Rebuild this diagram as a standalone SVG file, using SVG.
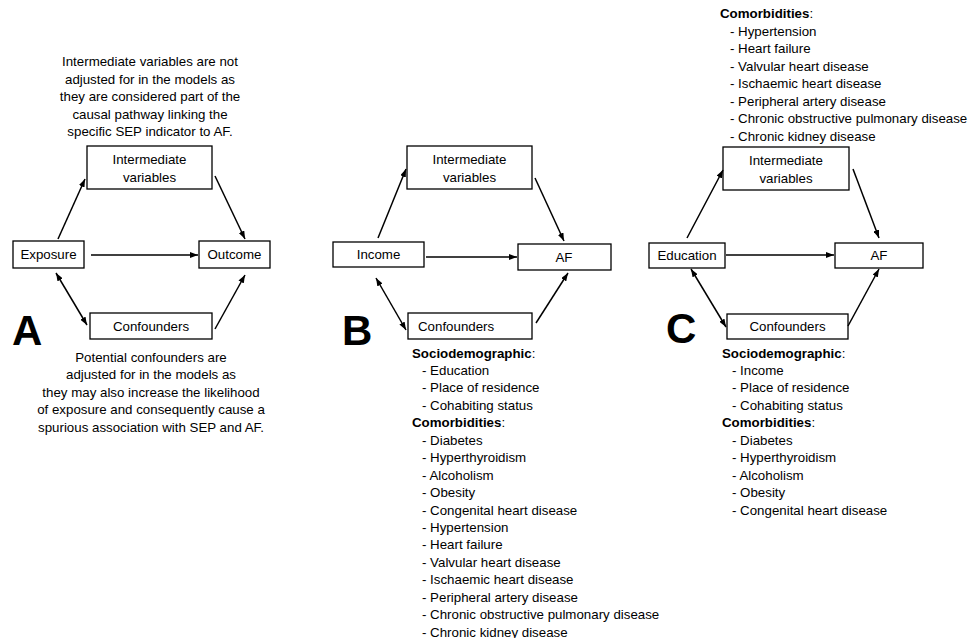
<svg xmlns="http://www.w3.org/2000/svg" width="969" height="638" viewBox="0 0 969 638">
<style>
text{font-family:"Liberation Sans",Arial,sans-serif;font-size:13.3px;fill:#000}
.c{text-anchor:middle}
.b{font-weight:bold}
.big{font-size:42px;font-weight:bold}
rect{fill:#fff;stroke:#000;stroke-width:1.3}
.arr path{fill:none;stroke:#000;stroke-width:1.5;marker-end:url(#ah)}
.arr path.bi{marker-start:url(#ah)}
</style>
<defs>
<marker id="ah" viewBox="0 0 8 6" refX="8" refY="3" markerWidth="8" markerHeight="6" markerUnits="userSpaceOnUse" orient="auto-start-reverse">
<path d="M0,0 L8,3 L0,6 z" fill="#000"/>
</marker>
</defs>

<!-- Panel A -->
<g id="noteA-top">
<text class="c" x="150" y="66">Intermediate variables are not</text>
<text class="c" x="150" y="83.5">adjusted for in the models as</text>
<text class="c" x="150" y="101">they are considered part of the</text>
<text class="c" x="150" y="118.5">causal pathway linking the</text>
<text class="c" x="150" y="136">specific SEP indicator to AF.</text>
</g>
<g id="A-inter"><rect x="87" y="146" width="125" height="43"/><text class="c" x="149.5" y="163.5">Intermediate</text><text class="c" x="149.5" y="181.5">variables</text></g>
<g id="A-exposure"><rect x="13" y="241" width="71" height="27"/><text class="c" x="48.5" y="259">Exposure</text></g>
<g id="A-outcome"><rect x="199" y="241" width="71" height="27"/><text class="c" x="234.5" y="259">Outcome</text></g>
<g id="A-conf"><rect x="90" y="313" width="122" height="26"/><text class="c" x="151" y="330.5">Confounders</text></g>
<g id="labelA"><text class="big" x="12" y="345">A</text></g>
<g id="noteA-bottom">
<text class="c" x="151" y="362">Potential confounders are</text>
<text class="c" x="151" y="379">adjusted for in the models as</text>
<text class="c" x="151" y="397">they may also increase the likelihood</text>
<text class="c" x="151" y="414">of exposure and consequently cause a</text>
<text class="c" x="151" y="432">spurious association with SEP and AF.</text>
</g>

<!-- Panel B -->
<g id="B-inter"><rect x="407" y="146" width="125" height="43"/><text class="c" x="469.5" y="163.5">Intermediate</text><text class="c" x="469.5" y="181.5">variables</text></g>
<g id="B-income"><rect x="333" y="242" width="91" height="25"/><text class="c" x="378.5" y="259">Income</text></g>
<g id="B-af"><rect x="518" y="244" width="93" height="26"/><text class="c" x="564" y="262">AF</text></g>
<g id="B-conf"><rect x="408" y="313" width="124" height="26"/><text x="418" y="331">Confounders</text></g>
<g id="labelB"><text class="big" x="342" y="345">B</text></g>
<g id="B-list">
<text x="412" y="357.5"><tspan class="b">Sociodemographic</tspan>:</text>
<text x="422" y="374.9">- Education</text>
<text x="422" y="392.4">- Place of residence</text>
<text x="422" y="409.8">- Cohabiting status</text>
<text x="412" y="427.3"><tspan class="b">Comorbidities</tspan>:</text>
<text x="422" y="444.7">- Diabetes</text>
<text x="422" y="462.1">- Hyperthyroidism</text>
<text x="422" y="479.6">- Alcoholism</text>
<text x="422" y="497">- Obesity</text>
<text x="422" y="514.5">- Congenital heart disease</text>
<text x="422" y="531.9">- Hypertension</text>
<text x="422" y="549.3">- Heart failure</text>
<text x="422" y="566.8">- Valvular heart disease</text>
<text x="422" y="584.2">- Ischaemic heart disease</text>
<text x="422" y="601.7">- Peripheral artery disease</text>
<text x="422" y="619.1">- Chronic obstructive pulmonary disease</text>
<text x="422" y="636.5">- Chronic kidney disease</text>
</g>

<!-- Panel C -->
<g id="C-toplist">
<text x="720" y="18"><tspan class="b">Comorbidities</tspan>:</text>
<text x="730" y="35.5">- Hypertension</text>
<text x="730" y="53">- Heart failure</text>
<text x="730" y="70.5">- Valvular heart disease</text>
<text x="730" y="88">- Ischaemic heart disease</text>
<text x="730" y="105.5">- Peripheral artery disease</text>
<text x="730" y="123">- Chronic obstructive pulmonary disease</text>
<text x="730" y="140.5">- Chronic kidney disease</text>
</g>
<g id="C-inter"><rect x="723" y="147" width="126" height="43"/><text class="c" x="786" y="165">Intermediate</text><text class="c" x="786" y="182.5">variables</text></g>
<g id="C-education"><rect x="649" y="243" width="76" height="25"/><text class="c" x="687" y="260">Education</text></g>
<g id="C-af"><rect x="835" y="243" width="88" height="25"/><text class="c" x="879" y="260">AF</text></g>
<g id="C-conf"><rect x="727" y="314" width="121" height="25"/><text class="c" x="787.5" y="331">Confounders</text></g>
<g id="labelC"><text class="big" x="666" y="343">C</text></g>
<g id="C-list">
<text x="722" y="357.5"><tspan class="b">Sociodemographic</tspan>:</text>
<text x="732" y="374.9">- Income</text>
<text x="732" y="392.4">- Place of residence</text>
<text x="732" y="409.8">- Cohabiting status</text>
<text x="722" y="427.3"><tspan class="b">Comorbidities</tspan>:</text>
<text x="732" y="444.7">- Diabetes</text>
<text x="732" y="462.1">- Hyperthyroidism</text>
<text x="732" y="479.6">- Alcoholism</text>
<text x="732" y="497">- Obesity</text>
<text x="732" y="514.5">- Congenital heart disease</text>
</g>

<g id="connectors" class="arr">
<path d="M58,239 L85,179"/>
<path d="M215,176 L245,239"/>
<path d="M91,255 L198,255"/>
<path class="bi" d="M56,273 L87,325"/>
<path d="M215,329 L245,275"/>

<path d="M378,238 L406,169"/>
<path d="M535,178 L564,241"/>
<path d="M426,257 L517,257"/>
<path class="bi" d="M376,278 L406,330"/>
<path d="M536,323 L568,273"/>

<path d="M687,238 L723,170"/>
<path d="M853,169 L879,238"/>
<path d="M726,255 L834,255"/>
<path class="bi" d="M691,269 L726,327"/>
<path d="M848,326 L879,269"/>
</g>
</svg>
